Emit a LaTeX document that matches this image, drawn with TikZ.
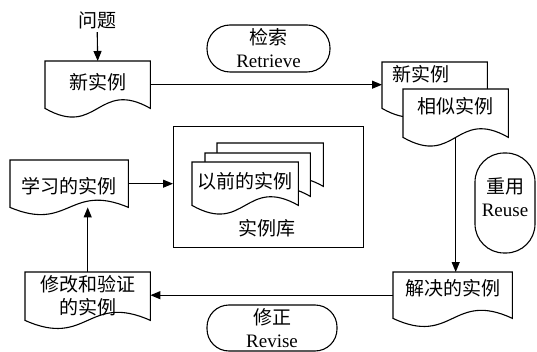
\documentclass[tikz,border=0pt]{standalone}
\usepackage{fontspec}
\setmainfont{Liberation Serif}
\newfontfamily\cjk{Noto Sans CJK SC}
\usetikzlibrary{arrows.meta,positioning,calc,backgrounds}
\tikzset{
    object style/.style={black,line width=1.1pt},
    arr/.style={-{Triangle[length=10pt,width=8pt]},object style},
    doc/.style={anchor=north west,inner sep=0pt,minimum width=#1},
    raised/.style 2 args={text height=#1,text depth=#2},
    pill/.style={draw,object style,rounded corners=#1,inner sep=0pt,align=center},
    libbox/.style={draw,object style,anchor=north west,inner sep=0pt},
}
\tikzstyle{every node}=[font=\fontsize{19}{23}\selectfont\cjk]
% document outline with wavy bottom, drawn behind the node text
\newcommand{\docframe}[2]{%
    \begin{scope}[on background layer]
        \draw[object style,fill=white] (#1.north west) -- (#1.north east) -- (#1.south east)
            .. controls ($(#1.south)+(0,-#2)$) and ($(#1.south)+(0,#2)$) .. (#1.south west) -- cycle;
    \end{scope}}

\begin{document}
\begin{tikzpicture}[x=1pt,y=-1pt]
    \useasboundingbox (0,0) rectangle (537,352);

    % top row
    \node (problem) at (97,20) {问题};
    \node[doc=105,minimum height=47,raised={18.5pt}{7.9pt}] (new) at (45,61) {新实例};
    \docframe{new}{30}
    \node[pill=23pt,minimum width=123,minimum height=47] (retrieve) at (268.5,48.5) {检索\\{\rmfamily Retrieve}};
    \node[doc=105,minimum height=46,text width=85,align=left,raised={10pt}{16.4pt}] (newb) at (382,62) {新实例};
    \docframe{newb}{30}
    \node[doc=105,minimum height=48,raised={14pt}{12.4pt}] (sim) at (403,89) {相似实例};
    \docframe{sim}{30}

    % case base
    \node[libbox,minimum width=190,minimum height=121] (lib) at (173,126) {};
    \node[doc=106,minimum height=43] (old3) at (217,143) {};
    \docframe{old3}{30}
    \node[doc=105,minimum height=43] (old2) at (205,153) {};
    \docframe{old2}{30}
    \node[doc=106,minimum height=43,raised={18.5pt}{7.9pt}] (old) at (192,162) {以前的实例};
    \docframe{old}{30}
    \node (libname) at (267,228) {实例库};

    \node[doc=118,minimum height=47,raised={23.5pt}{2.9pt}] (learn) at (10,160) {学习的实例};
    \docframe{learn}{25}
    \node[pill=29pt,minimum width=60,minimum height=100,text depth=12pt] (reuse) at (505,203) {重用\\{\rmfamily Reuse}};

    % bottom row
    \node[doc=119,minimum height=46,raised={13pt}{13.4pt}] (solved) at (393,272) {解决的实例};
    \docframe{solved}{28}
    \node[doc=125,minimum height=48,align=center] (modify) at (25,272) {修改和验证\\的实例};
    \docframe{modify}{28}
    \node[pill=22pt,minimum width=130,minimum height=46] (revise) at (272,328) {修正\\{\rmfamily Revise}};

    \draw[arr] (problem) -- (new.north);
    \draw[arr] (new.east) -- (new.east -| newb.west);
    \draw[arr] (sim.south) -- (sim.south |- solved.north);
    \draw[arr] (solved.west) -- (solved.west -| modify.east);
    \draw[arr] (modify.north) -- (modify.north |- learn.south);
    \draw[arr] (learn.east) -- (learn.east -| lib.west);
\end{tikzpicture}
\end{document}
